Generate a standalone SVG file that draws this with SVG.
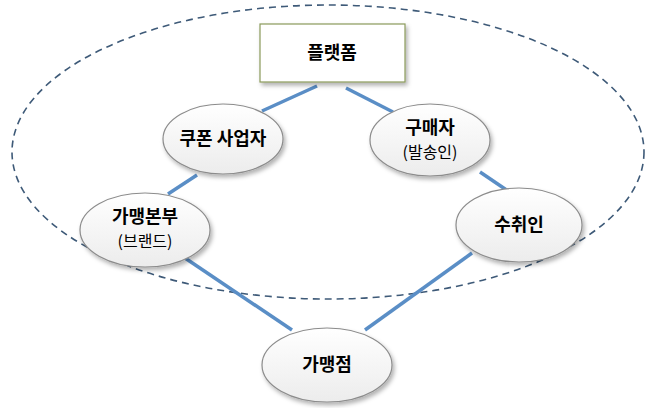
<svg xmlns="http://www.w3.org/2000/svg" width="657" height="408" viewBox="0 0 657 408">
<style>
.n{fill:url(#g);stroke:#8c8c8c;stroke-width:1.2;filter:url(#sh)}
.t{font-family:"Noto Sans CJK KR","Noto Sans",sans-serif;font-weight:bold;font-size:18px;text-anchor:middle;fill:#000}
.s{font-family:"Noto Sans CJK KR","Noto Sans",sans-serif;font-size:16px;text-anchor:middle;fill:#000}
.c{stroke:#5a8ec6;stroke-width:3.5;fill:none}
</style>
<defs>
<linearGradient id="g" x1="0" y1="0" x2="0" y2="1"><stop offset="0" stop-color="#ffffff"/><stop offset="1" stop-color="#ececec"/></linearGradient>
<filter id="sh" x="-20%" y="-20%" width="140%" height="150%"><feDropShadow dx="2" dy="3" stdDeviation="2" flood-color="#000" flood-opacity="0.3"/></filter>
</defs>
<rect width="657" height="408" fill="#fff"/>
<ellipse cx="328" cy="152" rx="316" ry="147" fill="none" stroke="#3e5a78" stroke-width="1.6" stroke-dasharray="7,5"/>
<g id="connectors">
<line class="c" x1="317" y1="86" x2="262" y2="111"/>
<line class="c" x1="346" y1="88" x2="393" y2="112"/>
<line class="c" x1="197" y1="175" x2="168" y2="194"/>
<line class="c" x1="480" y1="172" x2="508" y2="191"/>
<line class="c" x1="185" y1="258" x2="292" y2="330"/>
<line class="c" x1="472" y1="253" x2="365" y2="330"/>
</g>
<g id="platform"><rect x="260" y="24" width="145" height="58" fill="#fff" stroke="#8a9a5b" stroke-width="1.2" filter="url(#sh)"/><text class="t" x="332" y="59">플랫폼</text></g>
<g id="coupon"><ellipse class="n" cx="223" cy="139" rx="60" ry="35"/><text class="t" x="223" y="145">쿠폰 사업자</text></g>
<g id="buyer"><ellipse class="n" cx="430" cy="140" rx="60" ry="36"/><text class="t" x="430" y="134">구매자</text><text class="s" x="430" y="158">(발송인)</text></g>
<g id="hq"><ellipse class="n" cx="145" cy="230" rx="65" ry="37"/><text class="t" x="145" y="223">가맹본부</text><text class="s" x="145" y="247">(브랜드)</text></g>
<g id="receiver"><ellipse class="n" cx="519" cy="225" rx="63" ry="37"/><text class="t" x="519" y="231">수취인</text></g>
<g id="store"><ellipse class="n" cx="327" cy="365" rx="65" ry="37"/><text class="t" x="327" y="371">가맹점</text></g>
</svg>
